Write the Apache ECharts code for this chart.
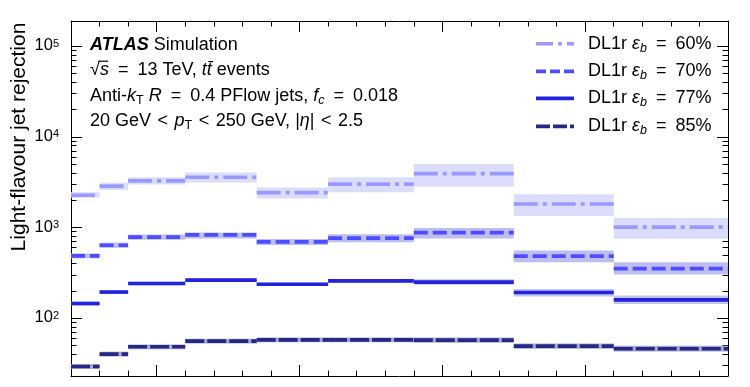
<!DOCTYPE html>
<html><head><meta charset="utf-8">
<script src="https://cdn.jsdelivr.net/npm/echarts@6/dist/echarts.min.js"></script>
<style>html,body{margin:0;padding:0;background:#fff}#c{width:750px;height:387px}</style>
</head><body><div id="c"></div>
<script>
// pT bin edges (GeV)
const binEdges = [20, 30, 40, 60, 85, 110, 140, 175, 210, 250];
// Light-flavour jet rejection, DL1r, per working point
const rej60   = [2270, 2860, 3270, 3590, 2430, 3010, 3930, 1820, 1010];
const rej60Lo = [2140, 2600, 2980, 3130, 2090, 2450, 2810, 1340, 750];
const rej60Hi = [2450, 3130, 3590, 4040, 2760, 3590, 5030, 2330, 1270];
const rej70   = [487, 638, 783, 829, 694, 763, 879, 483, 352];
const rej70Lo = [457, 596, 731, 755, 643, 689, 755, 415, 303];
const rej70Hi = [518, 682, 836, 879, 749, 844, 991, 557, 415];
const rej77   = [145, 194, 241, 263, 237, 258, 250, 192, 159];
const rej77Lo = [138, 185, 230, 251, 226, 246, 233, 173, 143];
const rej77Hi = [152, 203, 252, 275, 248, 270, 269, 210, 178];
const rej85   = [29.3, 40.1, 48.3, 55.8, 57.6, 57.6, 57.2, 49.1, 45.9];
const rej85Lo = [27.6, 37.7, 45.4, 52.5, 54.2, 54.2, 53.5, 45.9, 42.8];
const rej85Hi = [31.1, 42.6, 51.3, 59.3, 61.2, 61.2, 61.2, 52.5, 49.5];
const seriesNames = ['DL1r εb = 60%', 'DL1r εb = 70%', 'DL1r εb = 77%', 'DL1r εb = 85%'];
const legendPcts = ['60%', '70%', '77%', '85%'];
// axis ticks
const yMajorTicks = [100, 1000, 10000, 100000];
const yTickExps = ['2', '3', '4', '5'];
const yMinorTicks = [30,40,50,60,70,80,90,200,300,400,500,600,700,800,900,
  2000,3000,4000,5000,6000,7000,8000,9000,20000,30000,40000,50000,60000,70000,80000,90000];
const xMajorTicks = [50, 100, 150, 200];
const xMinorTicks = [30,40,60,70,80,90,110,120,130,140,160,170,180,190,210,220,230,240];

const lineColors = ['#9999ff', '#4d4dff', '#2323dc', '#272785'];
const bandColors = ['#dcdcfc', '#bdbdf2', '#c3c3f0', '#a9a9cf'];
const dashes = [[24,5,4,5], [14,5], null, [19,3]];
const legendDashes = [[17,5,4,5], [10,4], null, [14,3]];

const FONT = "'Liberation Sans', Arial, Helvetica, sans-serif";
const EQ = '\u2002=\u2002';
const LT = ' \u200a<\u200a ';

function binData(v, lo, hi) {
  return v.map((val, i) => [binEdges[i], binEdges[i + 1], val, lo[i], hi[i]]);
}
const sets = [
  binData(rej60, rej60Lo, rej60Hi),
  binData(rej70, rej70Lo, rej70Hi),
  binData(rej77, rej77Lo, rej77Hi),
  binData(rej85, rej85Lo, rej85Hi)
];

const series = [];
sets.forEach((d, k) => {
  series.push({
    type: 'custom', name: seriesNames[k] + ' band', xAxisIndex: 0, yAxisIndex: 0,
    data: d, encode: { x: [0, 1], y: [2, 3, 4] }, silent: true, z: 1,
    renderItem: (params, api) => {
      const p0 = api.coord([api.value(0), api.value(4)]);
      const p1 = api.coord([api.value(1), api.value(3)]);
      return { type: 'rect', shape: { x: p0[0], y: p0[1], width: p1[0] - p0[0], height: p1[1] - p0[1] },
        style: { fill: bandColors[k] } };
    }
  });
});
sets.forEach((d, k) => {
  series.push({
    type: 'custom', name: seriesNames[k], xAxisIndex: 0, yAxisIndex: 0,
    data: d, encode: { x: [0, 1], y: [2, 3, 4] }, silent: true, z: 2,
    renderItem: (params, api) => {
      const a = api.coord([api.value(0), api.value(2)]);
      const b = api.coord([api.value(1), api.value(2)]);
      return { type: 'line', shape: { x1: a[0], y1: a[1], x2: b[0], y2: b[1] },
        style: { stroke: lineColors[k], lineWidth: 3.6, lineDash: dashes[k], fill: null } };
    }
  });
});

function xAx(pos, ticks, len, showLine) {
  return { type: 'value', min: 20, max: 250, position: pos,
    axisLine: { show: showLine, onZero: false, lineStyle: { color: '#000', width: 1 } },
    axisTick: { show: true, inside: true, length: len, customValues: ticks, lineStyle: { color: '#000', width: 1 } },
    axisLabel: { show: false }, splitLine: { show: false } };
}
function yAx(pos, ticks, len, showLine, labels) {
  const ax = { type: 'log', logBase: 10, min: 23, max: 190000, position: pos,
    axisLine: { show: showLine, onZero: false, lineStyle: { color: '#000', width: 1 } },
    axisTick: { show: true, inside: true, length: len, customValues: ticks, lineStyle: { color: '#000', width: 1 } },
    axisLabel: { show: false }, splitLine: { show: false }, minorTick: { show: false } };
  if (labels) {
    ax.axisLabel = { show: true, customValues: yMajorTicks, margin: 12,
      formatter: v => '{b|10}{e|' + yTickExps[yMajorTicks.indexOf(Math.round(v))] + '}',
      rich: {
        b: { fontSize: 16.5, fontFamily: FONT, color: '#000', lineHeight: 16, verticalAlign: 'bottom' },
        e: { fontSize: 11, fontFamily: FONT, color: '#000', lineHeight: 11, verticalAlign: 'top' }
      }, lineHeight: 22 };
  }
  return ax;
}

const rich = {
  ab: { fontSize: 18, fontFamily: FONT, fontWeight: 'bold', fontStyle: 'italic', color: '#000', lineHeight: 22 },
  i: { fontSize: 18, fontFamily: FONT, fontStyle: 'italic', color: '#000', lineHeight: 22 },
  n: { fontSize: 18, fontFamily: FONT, color: '#000', lineHeight: 22 },
  sub: { fontSize: 12.5, fontFamily: FONT, color: '#000', lineHeight: 12, verticalAlign: 'bottom' },
  subi: { fontSize: 12.5, fontFamily: FONT, fontStyle: 'italic', color: '#000', lineHeight: 12, verticalAlign: 'bottom' }
};
function txt(x, y, text) {
  return { type: 'text', x: x, y: y, silent: true,
    style: { text: text, rich: rich, fontSize: 18, fontFamily: FONT, fill: '#000', align: 'left', verticalAlign: 'middle' } };
}
const annotation = [
  txt(90, 45.4, '{ab|ATLAS}{n| Simulation}'),
  txt(90, 69.7, '{n|√}{i|s}{n|' + EQ + '13 TeV, }{i|tt\u0304}{n| events}'),
  txt(90, 95.7, '{n|Anti-}{i|k}{sub|T}{n| }{i|R}{n|' + EQ + '0.4 PFlow jets, }{i|f}{subi|c}{n|' + EQ + '0.018}'),
  txt(90, 121.4, '{n|20 GeV' + LT + '}{i|p}{sub|T}{n|' + LT + '250 GeV, |}{i|η}{n||' + LT + '2.5}'),
  { type: 'line', silent: true, shape: { x1: 98.5, y1: 61.2, x2: 108, y2: 61.2 }, style: { stroke: '#000', lineWidth: 1.2 } }
];
const legendY = [43.7, 71.4, 98.4, 126.4];
const legendEls = [];
legendPcts.forEach((p, k) => {
  legendEls.push({ type: 'line', silent: true,
    shape: { x1: 536, y1: legendY[k], x2: 574, y2: legendY[k] },
    style: { stroke: lineColors[k], lineWidth: 3.6, lineDash: legendDashes[k] } });
  legendEls.push(txt(588, legendY[k], '{n|DL1r }{i|ε}{subi|b}{n|' + EQ + p + '}'));
});

const chart = echarts.init(document.getElementById('c'), null, { renderer: 'canvas' });
chart.setOption({
  animation: false,
  backgroundColor: '#fff',
  grid: { left: 71, top: 21, right: 22, bottom: 11, containLabel: false },
  xAxis: [
    xAx('bottom', xMajorTicks, 11, true),
    xAx('bottom', xMinorTicks, 5.5, false),
    xAx('top', xMajorTicks, 11, true),
    xAx('top', xMinorTicks, 5.5, false)
  ],
  yAxis: [
    yAx('left', yMajorTicks, 11, true, true),
    yAx('left', yMinorTicks, 5.5, false, false),
    yAx('right', yMajorTicks, 11, true, false),
    yAx('right', yMinorTicks, 5.5, false, false)
  ],
  series: series,
  graphic: [
    { type: 'text', x: 19, y: 137, rotation: Math.PI / 2, silent: true,
      style: { text: 'Light-flavour jet rejection', fontSize: 21, fontFamily: FONT, fill: '#000', align: 'center', verticalAlign: 'middle' } }
  ].concat(annotation, legendEls)
});
</script></body></html>
